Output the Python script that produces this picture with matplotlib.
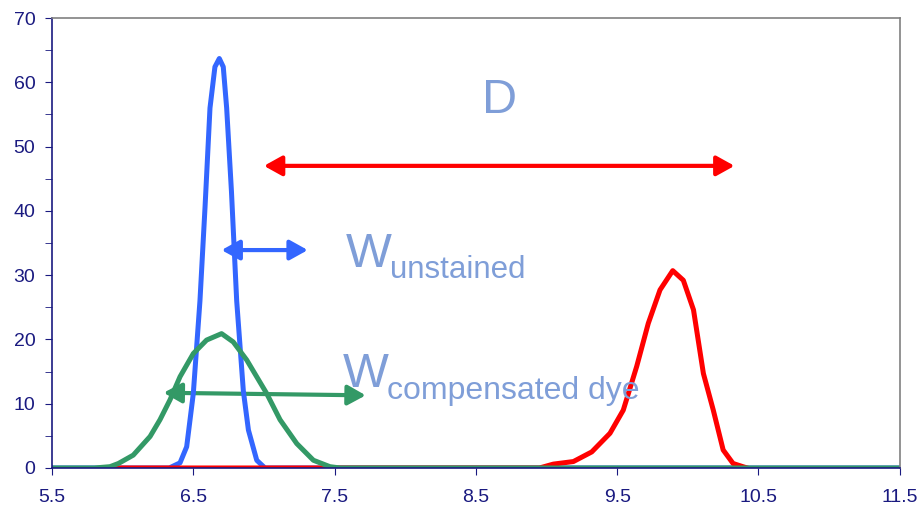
import matplotlib
matplotlib.use("Agg")
import matplotlib.pyplot as plt
from matplotlib.patches import FancyArrowPatch

plt.rcParams['font.family'] = ['Liberation Sans', 'DejaVu Sans']

# curves
blue_x = [5.5, 6.33, 6.406, 6.453, 6.50, 6.547, 6.583, 6.618, 6.653, 6.684,
          6.712, 6.736, 6.77, 6.807, 6.854, 6.89, 6.949, 7.007, 11.5]
blue_y = [0, 0, 0.8, 3.3, 11.6, 26, 40.6, 56, 62.4, 63.7,
          62.4, 56, 43, 26, 12, 5.9, 1.2, 0, 0]

green_x = [5.5, 5.8, 5.91, 5.97, 6.075, 6.194, 6.264, 6.335, 6.406, 6.50,
           6.594, 6.70, 6.783, 6.878, 7.019, 7.114, 7.232, 7.35, 7.467, 7.54, 11.5]
green_y = [0, 0, 0.2, 0.7, 2.0, 4.9, 7.5, 10.6, 14.2, 17.8,
           19.9, 20.9, 19.6, 16.8, 11.6, 7.5, 3.8, 1.2, 0.2, 0, 0]

red_x = [5.9, 8.95, 9.048, 9.19, 9.32, 9.449, 9.543, 9.638, 9.72, 9.803, 9.893,
         9.968, 10.04, 10.11, 10.18, 10.25, 10.32, 10.39, 10.42]
red_y = [0, 0, 0.6, 1.0, 2.5, 5.4, 9.0, 15.8, 22.5, 27.7, 30.7,
         29.2, 24.6, 14.7, 9.0, 2.8, 0.7, 0.2, 0]

x_ticks = [5.5, 6.5, 7.5, 8.5, 9.5, 10.5, 11.5]
y_ticks = [0, 10, 20, 30, 40, 50, 60, 70]

# arrows: (x_start, y_start, x_end, y_end)
arrow_d = (7.0, 47.0, 10.33, 47.0)
arrow_unst = (6.70, 33.9, 7.31, 33.9)
arrow_comp = (6.29, 11.7, 7.72, 11.3)

navy = '#1a1a80'
label_col = '#7f9ed8'

fig = plt.figure(figsize=(9.19, 5.09), dpi=100)
ax = fig.add_axes([0.0566, 0.0806, 0.9225, 0.884])

ax.plot(blue_x, blue_y, color='#3366ff', lw=3.6, solid_joinstyle='round')
ax.plot(red_x, red_y, color='#ff0000', lw=3.6, solid_joinstyle='round')
ax.plot(green_x, green_y, color='#339966', lw=3.6, solid_joinstyle='round')

def double_arrow(a, col):
    p = FancyArrowPatch((a[0], a[1]), (a[2], a[3]),
                        arrowstyle='<|-|>,head_length=0.9,head_width=0.5',
                        mutation_scale=12, lw=3, color=col,
                        shrinkA=0, shrinkB=0)
    ax.add_patch(p)

double_arrow(arrow_d, '#ff0000')
double_arrow(arrow_unst, '#3366ff')
double_arrow(arrow_comp, '#339966')

ax.text(8.54, 55.2, 'D', fontsize=35, color=label_col, va='baseline')
ax.text(7.58, 31.3, 'W', fontsize=35, color=label_col, va='baseline')
ax.text(7.89, 29.5, 'unstained', fontsize=22.5, color=label_col, va='baseline')
ax.text(7.56, 12.6, 'W', fontsize=35, color=label_col, va='baseline')
ax.text(7.87, 10.8, 'compensated dye', fontsize=23, color=label_col,
        va='baseline')

ax.set_xlim(5.5, 11.5)
ax.set_ylim(0, 70)
ax.set_xticks(x_ticks)
ax.set_yticks(y_ticks)
ax.set_yticks([5, 15, 25, 35, 45, 55, 65], minor=True)
ax.tick_params(axis='both', which='both', direction='out', length=5,
               color=navy, labelcolor=navy, labelsize=14)
ax.tick_params(axis='y', which='minor', length=5)
ax.tick_params(axis='x', pad=10)
ax.tick_params(axis='y', pad=7)

ax.spines['left'].set_color(navy)
ax.spines['bottom'].set_color(navy)
ax.spines['top'].set_color('#808080')
ax.spines['right'].set_color('#808080')
for s in ax.spines.values():
    s.set_linewidth(1.2)

fig.savefig('out.png', dpi=100)
